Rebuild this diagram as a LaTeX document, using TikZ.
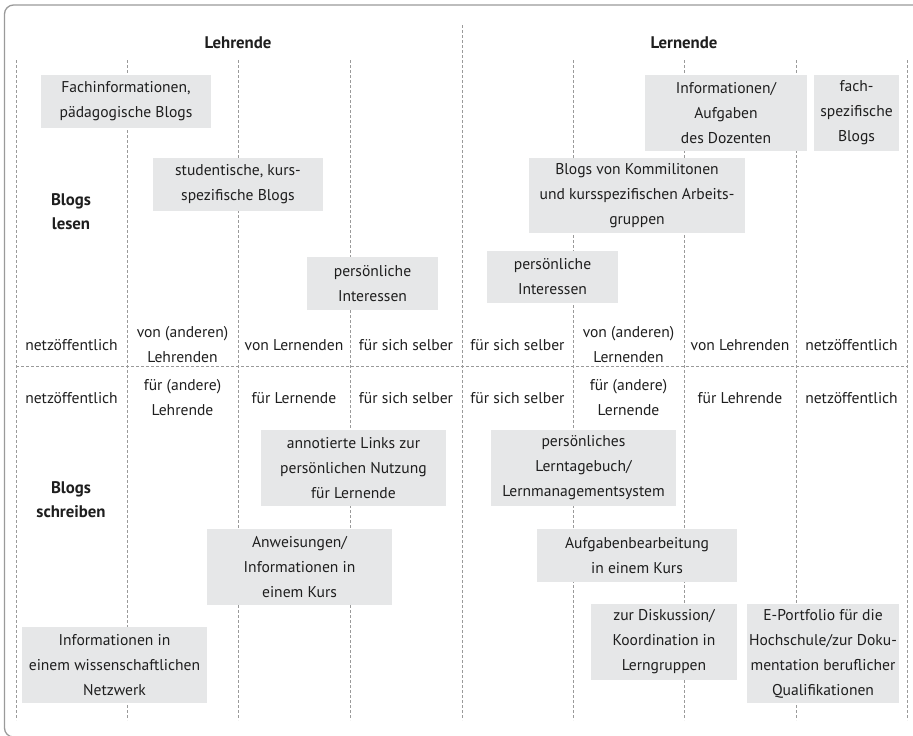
\documentclass[tikz,border=0pt]{standalone}
\usepackage{fontspec}
\setmainfont{PT Sans}
\usepackage{tikz}

\definecolor{boxgray}{HTML}{E6E7E8}
\definecolor{rulegray}{HTML}{9A9A9A}
\definecolor{inkgray}{HTML}{1E1E1E}

\begin{document}
\begin{tikzpicture}[x=1pt,y=-1pt,
		every node/.style={text=inkgray,font=\fontsize{15.6}{25}\selectfont,align=center,inner sep=0pt},
		grid/.style={rulegray,line width=0.8pt,dash pattern=on 3pt off 2pt},
		head/.style={font=\fontsize{16.8}{24}\selectfont\bfseries},
		blogbox/.style={fill=boxgray}]
		\useasboundingbox (0,0) rectangle (913,736);
		\begin{scope}
		\clip (0,0) rectangle (913,736);
		\draw[rulegray,line width=1.3pt,rounded corners=9pt] (4.5,5) rectangle (940,737);
		\end{scope}
		% Spalten und Trennlinie
		\foreach \x in {16,127,238,350,573,684,796,907}
		\draw[grid] (\x,60) -- (\x,720);
		\draw[grid] (462,25) -- (462,720);
		\draw[grid] (16,366) -- (907,366);
		% Kopfzeilen
		\node[head] (lehrende) at (238,43) {Lehrende};
		\node[head] (lernende) at (684,43) {Lernende};
		\node[head] (lesen) at (71,212) {Blogs\\lesen};
		\node[head] (schreiben) at (71,500) {Blogs\\schreiben};
		% lesen: von wem
		\node (vonnetzl) at (71.5,345) {netzöffentlich};
		\node (vonlehr) at (182.5,345) {von (anderen)\\Lehrenden};
		\node (vonlern) at (294,345) {von Lernenden};
		\node (vonselbstl) at (406,345) {für sich selber};
		\node (vonselbstr) at (517.5,345) {für sich selber};
		\node (vonkomm) at (628.5,345) {von (anderen)\\Lernenden};
		\node (vondoz) at (740,345) {von Lehrenden};
		\node (vonnetzr) at (851.5,345) {netzöffentlich};
		% schreiben: fuer wen
		\node (fuernetzl) at (71.5,398) {netzöffentlich};
		\node (fuerlehr) at (182.5,398) {für (andere)\\Lehrende};
		\node (fuerlern) at (294,398) {für Lernende};
		\node (fuerselbstl) at (406,398) {für sich selber};
		\node (fuerselbstr) at (517.5,398) {für sich selber};
		\node (fuerkomm) at (628.5,398) {für (andere)\\Lernende};
		\node (fuerdoz) at (740,398) {für Lehrende};
		\node (fuernetzr) at (851.5,398) {netzöffentlich};
		% Kaesten Blogs lesen
		\node[blogbox,minimum width=170,minimum height=53] (fachinfo) at (126,101.5) {Fachinformationen,\\pädagogische Blogs};
		\node[blogbox,minimum width=170,minimum height=53] (studblogs) at (238,184.5) {studentische, kurs-\\spezifische Blogs};
		\node[blogbox,minimum width=131,minimum height=53] (persl) at (372.5,283.5) {persönliche\\Interessen};
		\node[blogbox,minimum width=162,minimum height=76] (infodoz) at (726,113) {Informationen/\\Aufgaben\\des Dozenten};
		\node[blogbox,minimum width=85,minimum height=76] (fachblogs) at (856.5,113) {fach-\\spezifische\\Blogs};
		\node[blogbox,minimum width=216,minimum height=75] (kommil) at (637,195.5) {Blogs von Kommilitonen\\und kursspezifischen Arbeits-\\gruppen};
		\node[blogbox,minimum width=131,minimum height=52] (persr) at (552.5,277) {persönliche\\Interessen};
		% Kaesten Blogs schreiben
		\node[blogbox,minimum width=185,minimum height=76] (links) at (353.5,468) {annotierte Links zur\\persönlichen Nutzung\\für Lernende};
		\node[blogbox,minimum width=185,minimum height=76] (anweis) at (299.5,567) {Anweisungen/\\Informationen in\\einem Kurs};
		\node[blogbox,minimum width=185,minimum height=76] (netzwerk) at (114.5,665) {Informationen in\\einem wissenschaftlichen\\Netzwerk};
		\node[blogbox,minimum width=185,minimum height=76] (tagebuch) at (583.5,468) {persönliches\\Lerntagebuch/\\Lernmanagementsystem};
		\node[blogbox,minimum width=200,minimum height=53] (aufgaben) at (637,555.5) {Aufgabenbearbeitung\\in einem Kurs};
		\node[blogbox,minimum width=146,minimum height=76] (diskussion) at (664,642) {zur Diskussion/\\Koordination in\\Lerngruppen};
		\node[blogbox,minimum width=152,minimum height=99] (portfolio) at (823,653.5) {E-Portfolio für die\\Hochschule/zur Doku-\\mentation beruflicher\\Qualifikationen};
\end{tikzpicture}
\end{document}
